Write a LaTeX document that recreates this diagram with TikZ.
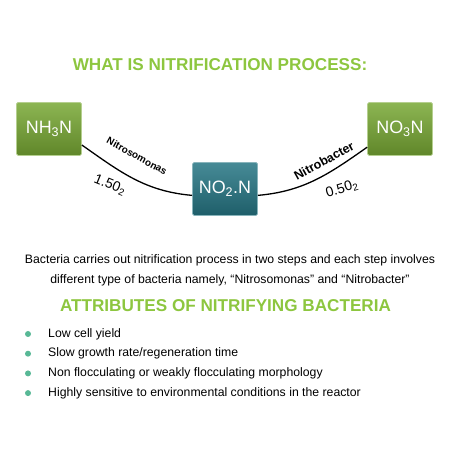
\documentclass[tikz,border=0pt]{standalone}
\usepackage{fontspec}
\setmainfont{Liberation Sans}
\usetikzlibrary{positioning}

\definecolor{titlegreen}{RGB}{141,198,63}
\definecolor{boxgreen}{RGB}{120,168,52}
\definecolor{boxteal}{RGB}{38,118,132}
\definecolor{dotgreen}{RGB}{88,184,150}

\tikzset{
    chembox/.style={minimum width=65bp, minimum height=53bp, inner sep=0pt,
        rounded corners=1.5bp, text=white, line width=0.7bp,
        font=\fontsize{18}{18}\selectfont},
    greenbox/.style={chembox, top color=boxgreen!85!white, bottom color=boxgreen!80!black,
        draw=boxgreen!55!white},
    tealbox/.style={chembox, top color=boxteal!85!white, bottom color=boxteal!80!black,
        draw=boxteal!55!white},
    heading/.style={text=titlegreen, font=\fontsize{17.2}{17.2}\selectfont\bfseries},
    bodytext/.style={font=\fontsize{12.3}{20}\selectfont},
    link/.style={line width=1.3bp, black}
}

\begin{document}
\begin{tikzpicture}[x=1bp, y=1bp]
    \useasboundingbox (0,0) rectangle (474,474);

    % Title
    \node[heading] (title) at (220,409) {WHAT IS NITRIFICATION PROCESS:};

    % Compound boxes
    \node[greenbox] (nh) at (49,345) {NH\textsubscript{3}N};
    \node[tealbox] (no2) at (225,285) {NO\textsubscript{2}.N};
    \node[greenbox] (no3) at (400,345) {NO\textsubscript{3}N};

    % Connecting arcs
    \draw[link] (nh.-26) to[out=-35,in=175] (no2.191);
    \draw[link] (no2.-11) to[out=5,in=215] (no3.209);

    % Arc labels
    \node[rotate=-29, font=\fontsize{10}{10}\selectfont\bfseries] (nsm) at (137,318) {Nitrosomonas};
    \node[rotate=-22, font=\fontsize{14}{14}\selectfont] (ox1) at (110,289) {1.50\textsubscript{2}};
    \node[rotate=29, font=\fontsize{12.5}{12.5}\selectfont\bfseries] (nbc) at (324,313) {Nitrobacter};
    \node[rotate=17, font=\fontsize{14}{14}\selectfont] (ox2) at (342,285) {0.50\textsubscript{2}};

    % Description
    \node[bodytext, align=center] (desc) at (230,204)
        {Bacteria carries out nitrification process in two steps and each step involves\\
         different type of bacteria namely, “Nitrosomonas” and “Nitrobacter”};

    % Attributes
    \node[heading] (attr) at (225.5,168) {ATTRIBUTES OF NITRIFYING BACTERIA};

    \foreach \txt [count=\i] in {Low cell yield,
        Slow growth rate/regeneration time,
        Non flocculating or weakly flocculating morphology,
        Highly sensitive to environmental conditions in the reactor} {
        \pgfmathsetmacro{\yy}{140-(\i-1)*19.7}
        \fill[dotgreen] (28,\yy) circle (3bp);
        \node[bodytext, anchor=west, inner sep=0pt] (item\i) at (48,\yy) {\txt};
    }
\end{tikzpicture}
\end{document}
